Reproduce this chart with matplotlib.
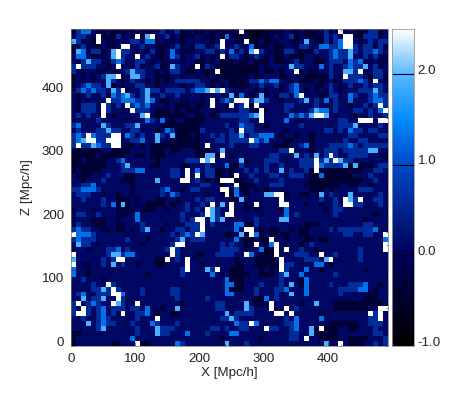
import numpy as np
import matplotlib
matplotlib.use('Agg')
import matplotlib.pyplot as plt
from matplotlib.colors import LinearSegmentedColormap
from matplotlib.ticker import MultipleLocator
from matplotlib.transforms import ScaledTranslation

plt.rcParams['font.family'] = ['Liberation Sans', 'DejaVu Sans']

# log density per cell, top row first, as levels 0-9
level_values = [-0.75, -0.4, -0.15, 0.12, 0.6, 1.3, 1.5, 1.9, 2.1, 2.5]

rows = [
    "14443213 11231321 23423412 31131211 22111011 11232131 12342322 31124413",
    "34432212 14232324 33342312 23322311 21120011 23234131 12243432 32144423",
    "34231132 22334432 21322313 33231342 32231131 12332133 32142424 43234344",
    "13422132 23323343 32123423 24423423 34331121 31133244 33134414 34344242",
    "23534413 32443232 42131322 23344243 33423443 21144312 14334444 44344543",
    "31431223 34433134 32131423 34232322 44313432 31231113 32334544 43343422",
    "32444432 44433443 23223323 31131312 13123111 31123423 31134443 54322322",
    "44444331 31332423 34123433 13143211 11111132 33331443 32334334 54433423",
    "43233213 13343443 31324431 13211111 11111131 13133323 12334332 44323443",
    "13232344 31134543 31113323 32313211 11123123 33123321 11124323 44431442",
    "23232334 43234332 31313444 44331133 11124454 44331311 13123134 44443432",
    "13434432 13233443 31333313 34431313 11123343 34234433 31134323 43343443",
    "34545443 44323343 44344443 44554544 33233132 33134331 32324323 33444443",
    "31343342 44544343 33433433 33233332 31131332 32443433 33124433 44334544",
    "32323334 44445443 33123322 33131344 44434444 33133344 34313433 33334454",
    "31444334 34334544 33323121 31133332 33441133 33344333 34323433 13343444",
    "32444324 33233444 31123131 12333132 33441111 33343333 44333433 34434354",
    "34343323 13333343 31111113 31131344 44443323 33335444 33333333 31334334",
    "33333433 33323333 43321331 11133333 33443333 33343323 33333344 33333334",
    "45333344 33344433 33211111 11333334 33444331 33333343 33333344 43333343",
    "34333444 44334433 31344111 11433333 43344333 33323333 33344343 44434433",
    "45445444 44334343 35433211 31334343 44334455 43133133 13333333 44333344",
    "45454444 43334453 34331111 11333443 44445544 33311333 13333334 33443333",
    "44444544 33311313 11111211 11323333 43334433 31113344 13334444 44344444",
    "11111133 11113333 11131133 31113333 33333333 33444333 13344434 44444433",
    "11111311 11133113 11133333 31111133 13333333 44333334 34343433 44443331",
    "11311113 34333333 31333334 44333333 33313334 44333344 44444454 43333333",
    "01111113 33443333 11333311 33343334 11433334 33433344 44344444 11111344",
    "13111133 33444433 33334433 33344113 13343434 33334334 11111111 11133443",
    "31113334 33311333 33334433 34344113 13334333 44334443 11111111 13334333",
    "33133343 33111333 34333333 34313113 31133433 33433333 11111111 11133433",
    "33443333 33331333 33333333 33443313 31111333 44433331 11111133 11331333",
    "44444433 33332333 33433313 44333333 11113131 33233333 11131333 33444333",
    "34443323 31332333 33433433 33323313 13313333 33113311 31334333 13333343",
    "33433343 31123133 31133133 34344333 11133333 33333333 33433433 44333443",
    "33333343 31113231 11131334 33434333 33313333 33323332 33133433 34433343",
    "23332333 32112311 13323334 34333433 33323233 33133333 33323443 33333333",
    "34433433 31223433 33333343 33433433 33333323 33333433 33333433 33333133",
    "23331223 32333433 33333343 43433433 33333433 33343333 33333333 33313333",
    "34332113 32233343 33323334 44334333 33311433 33333331 11333333 33344333",
    "44443322 31132343 33133443 44433333 33331313 11331311 33334344 44444333",
    "44444333 33323333 33334344 44433331 13311313 11113311 33333334 43344334",
    "44444333 33343331 33333433 44433333 33311311 33323331 13113333 33333334",
    "34443233 33333323 33334443 33333343 43311331 33333313 43333333 33333334",
    "33323334 43343333 33344433 33333344 44333331 11333343 31333333 33433334",
    "23333334 44443333 33334433 31133444 43333311 13333444 33333433 33433333",
    "33333343 44433333 31133433 33333333 31333111 13333334 44331333 33433333",
    "33223343 33433233 31133333 33133333 31133111 11344333 33331333 33333333",
    "33323333 33333333 33333343 33344333 11133313 13443333 33133333 33323333",
    "33313333 33333331 33333343 33333323 11113311 13433333 33333433 33333333",
    "33433323 33333333 33333333 33333333 11133333 33433313 33333333 33333333",
    "33334333 43333333 33333333 33333333 11133343 33433313 33334333 44433313",
    "33334434 44333343 33334433 33333333 11133433 34433333 33333344 44433133",
    "34433444 44333343 33334433 33333333 13333433 34333333 33333343 33332133",
    "33334443 34433333 33333433 33343333 33333113 34333333 33333333 33311133",
    "44343433 44433333 33333313 33333443 33333113 33333323 33333111 11111113",
    "43343443 44434433 33133333 33333443 33344333 13313433 33333111 11113333",
    "44343433 43333443 31331133 33333333 34444333 34333333 33133333 33333443",
    "33433444 33333433 34333333 33333344 34333333 33343333 33333333 33334443",
    "33343444 43334333 44333433 33333333 33443333 33344333 33331111 11334443",
    "33333433 33333433 34444333 33334434 33443334 44334333 11111133 11333433",
    "11333333 33333433 33443333 33343333 33333333 33334433 11111133 33333443",
    "13333333 33333333 33333333 33333313 33333313 33334433 33111133 11113334",
    "13333333 11333311 33333343 33333334 33343333 33333333 33333333 11133434",
]

# cells that stand out, (row, column)
white_cells = [
    (1, 5), (2, 5), (1, 13), (1, 16), (3, 10), (3, 11), (4, 9), (5, 9), (5, 13), (7, 1), (7, 9), (7, 25),
    (8, 29), (2, 30), (3, 30), (5, 30), (9, 9), (12, 10), (12, 28), (12, 30), (14, 7), (15, 11), (16, 12),
    (15, 6), (16, 6), (17, 6), (17, 15), (14, 28), (15, 28), (21, 3), (22, 3), (22, 4), (23, 1), (21, 8),
    (21, 9), (22, 7), (22, 8), (22, 9), (23, 8), (23, 9), (23, 27), (25, 30), (26, 26), (26, 28), (28, 23),
    (29, 23), (30, 23), (29, 25), (30, 22), (30, 30), (30, 31),
    (0, 34), (2, 35), (4, 37), (0, 54), (1, 55), (1, 56), (2, 55), (2, 56), (3, 55), (3, 56), (8, 58), (9, 55),
    (10, 61), (8, 45), (13, 46), (14, 33), (14, 34), (14, 35), (15, 35), (15, 32), (15, 37), (16, 38), (17, 38),
    (18, 38), (15, 62), (16, 63), (17, 49), (17, 50), (18, 58), (18, 59), (18, 60), (18, 62), (18, 63), (20, 34),
    (22, 36), (24, 44), (26, 49), (27, 49), (28, 49), (25, 52), (26, 53), (29, 33), (30, 32), (31, 33),
    (32, 30), (33, 31), (36, 27), (35, 28), (37, 27), (38, 25), (38, 26), (39, 26), (40, 26), (41, 25), (43, 21),
    (44, 20), (43, 22), (45, 20), (46, 19), (41, 0), (45, 0), (47, 0), (46, 9), (46, 10), (46, 23), (47, 23),
    (48, 23), (48, 29), (51, 7), (52, 8), (53, 8), (53, 9), (54, 9), (55, 1), (55, 8), (55, 13), (57, 1), (57, 2),
    (56, 2), (57, 10), (58, 17), (63, 13),
    (32, 31), (35, 32), (36, 32), (35, 37), (37, 31), (37, 32), (33, 41), (33, 42), (34, 42), (35, 42), (35, 43),
    (34, 55), (35, 55), (35, 56), (34, 58), (40, 35), (40, 36), (41, 36), (41, 63), (43, 63), (44, 63), (42, 40),
    (43, 41), (44, 41), (45, 41), (43, 37), (44, 43), (45, 35), (46, 42), (47, 42), (48, 42), (45, 50), (46, 52),
    (55, 40), (56, 40), (57, 41), (57, 42), (56, 43), (57, 44), (57, 60), (56, 62), (57, 62), (58, 62), (56, 63),
    (60, 50), (62, 47), (59, 36), (60, 39), (63, 54),
]
light_cells = [
    (2, 0), (1, 15), (4, 8), (5, 8), (4, 1), (6, 3), (7, 20), (8, 12), (9, 12), (9, 13), (9, 7), (10, 7), (11, 7),
    (12, 8), (12, 27), (12, 29), (12, 15), (13, 15), (14, 15), (13, 11), (17, 14), (19, 6), (20, 7), (21, 17),
    (22, 17), (19, 13), (21, 20), (22, 2), (23, 4), (25, 27), (25, 28), (26, 27), (24, 30), (27, 11), (30, 17), (9, 8),
    (2, 47), (4, 36), (4, 56), (5, 56), (7, 44), (7, 59), (8, 55), (8, 56), (12, 61), (14, 47), (13, 32), (14, 37),
    (14, 38), (13, 38), (17, 37), (16, 49), (17, 48), (17, 51), (19, 57), (21, 34), (25, 45), (25, 49), (26, 51),
    (26, 54), (27, 55), (27, 57), (26, 34), (28, 42), (24, 60), (24, 61),
    (35, 10), (36, 28), (37, 28), (38, 30), (35, 30), (41, 26), (42, 22), (40, 15), (43, 1), (46, 0), (45, 8), (45, 9),
    (47, 8), (48, 27), (52, 6), (54, 2), (54, 6), (55, 9), (56, 21), (59, 3), (60, 6), (60, 17), (61, 17), (57, 31), (38, 28),
    (33, 39), (33, 40), (34, 34), (38, 42), (33, 56), (34, 56), (33, 50), (41, 34), (46, 51), (49, 43), (51, 44), (53, 44),
    (55, 49), (55, 35), (56, 35), (60, 48), (61, 48), (63, 51), (63, 31), (58, 32), (38, 43),
]
blue_cells = [
    (0, 2), (0, 3), (2, 15), (2, 16), (4, 20), (5, 20), (5, 1), (5, 2), (6, 9), (11, 3), (12, 2), (12, 4), (12, 25),
    (12, 26), (13, 8), (13, 10), (14, 10), (14, 11), (15, 15), (14, 16), (14, 31), (18, 18), (19, 1), (20, 19), (21, 11),
    (26, 10), (28, 13), (28, 14), (28, 25), (27, 31), (18, 15),
    (1, 31), (3, 36), (4, 32), (3, 50), (3, 51), (4, 53), (2, 54), (3, 54), (4, 61), (6, 58), (7, 50), (10, 40), (10, 41),
    (10, 58), (11, 45), (12, 45), (13, 45), (13, 34), (14, 51), (13, 56), (14, 56), (13, 61), (14, 61), (16, 50),
    (17, 46), (18, 43), (17, 36), (20, 56), (19, 34), (22, 39), (21, 40), (23, 47), (27, 50), (29, 50), (23, 56), (16, 51),
    (32, 2), (32, 3), (32, 4), (31, 4), (32, 19), (33, 20), (35, 8), (37, 13), (38, 13), (41, 23), (40, 1), (41, 1),
    (42, 1), (41, 2), (45, 11), (45, 12), (44, 9), (49, 28), (50, 31), (51, 31), (52, 31), (53, 31), (53, 10), (53, 2),
    (55, 4), (56, 6), (57, 6), (58, 6), (59, 6), (56, 15), (57, 15), (59, 16), (62, 12), (61, 23), (63, 21), (48, 0),
    (49, 0), (41, 3),
    (32, 33), (33, 33), (37, 43), (36, 43), (39, 33), (39, 34), (40, 33), (40, 61), (42, 63), (41, 37), (43, 40), (44, 38),
    (45, 36), (47, 49), (47, 50), (48, 47), (49, 46), (50, 47), (51, 47), (52, 47), (53, 47), (52, 43), (54, 39), (58, 45),
    (59, 45), (60, 45), (59, 37), (59, 33), (61, 32), (61, 33), (51, 32), (53, 32), (51, 59), (52, 58), (52, 59), (42, 33), (58, 50),
]

x_ticks = [0, 100, 200, 300, 400]
y_ticks = [0, 100, 200, 300, 400]
cbar_ticks = [-1.0, 0.0, 1.0, 2.0]

# build the image
n = 64
levels = np.full((n, n), 2)
for i, row in enumerate(rows):
    row = row.replace(' ', '')
    for j, c in enumerate(row[:n]):
        levels[i, j] = int(c)
for r, c in blue_cells:
    levels[r, c] = 5
for r, c in light_cells:
    levels[r, c] = 7
for r, c in white_cells:
    levels[r, c] = 9
density = np.array(level_values)[levels]

cmap = LinearSegmentedColormap.from_list('blues_white', [
    (0.0, (0, 0, 0)),
    (1 / 3.5, (0, 0, 0.34)),
    (2 / 3.5, (0, 0.28, 0.78)),
    (2.5 / 3.5, (0, 0.55, 1.0)),
    (3.0 / 3.5, (0.35, 0.72, 1.0)),
    (1.0, (1, 1, 1)),
])

W, H = 463, 400
fig = plt.figure(figsize=(W / 100, H / 100), dpi=100)


def px_axes(left, top, right, bottom):
    return fig.add_axes([left / W, 1 - bottom / H, (right - left) / W, (bottom - top) / H])


ax = px_axes(71, 29, 387.5, 346)
ax.imshow(density, cmap=cmap, vmin=-1, vmax=2.5, extent=(0, 493, 0, 500), origin='upper',
          interpolation='nearest', aspect='auto')
ax.set_xlim(0, 493)
ax.set_ylim(0, 500)
ax.set_xticks(x_ticks)
ax.set_yticks(y_ticks)
ax.xaxis.set_minor_locator(MultipleLocator(20))
ax.yaxis.set_minor_locator(MultipleLocator(20))
ax.tick_params(which='major', direction='in', length=2.6, width=0.4, top=True, right=True, color='#222222',
               labelsize=9.6, pad=5, labelcolor='#222222')
ax.tick_params(which='minor', direction='in', length=1.3, width=0.4, top=True, right=True, color='#222222')
for s in ax.spines.values():
    s.set_linewidth(0.5)
    s.set_color('#777777')
# y labels sit a little above their ticks in the original
shift = ScaledTranslation(0, 5 / 100, fig.dpi_scale_trans)
for lab in ax.get_yticklabels():
    lab.set_transform(lab.get_transform() + shift)
fig.text(229 / W, 1 - 373 / H, 'X [Mpc/h]', ha='center', va='center', fontsize=9.6, color='#222222')
fig.text(27 / W, 1 - 187 / H, 'Z [Mpc/h]', ha='center', va='center', rotation=90, fontsize=9.6, color='#222222')

cax = px_axes(392, 29, 414, 346)
gradient = np.linspace(-1, 2.5, 256).reshape(-1, 1)
cax.imshow(gradient, cmap=cmap, vmin=-1, vmax=2.5, extent=(0, 1, -1, 2.5), origin='lower', aspect='auto')
cax.set_xticks([])
cax.set_yticks(cbar_ticks)
cax.set_yticklabels([f'{t:.1f}' for t in cbar_ticks])
cax.yaxis.tick_right()
cax.tick_params(axis='y', length=0, labelsize=9.6, pad=2.5, labelcolor='#222222')
for t in cbar_ticks[1:]:
    cax.axhline(t, color='#000018', lw=0.8)
for s in cax.spines.values():
    s.set_linewidth(0.6)
    s.set_color('#999999')
shift2 = ScaledTranslation(0, 5 / 100, fig.dpi_scale_trans)
for lab in cax.get_yticklabels():
    lab.set_transform(lab.get_transform() + shift2)

fig.savefig('out.png', dpi=100)
